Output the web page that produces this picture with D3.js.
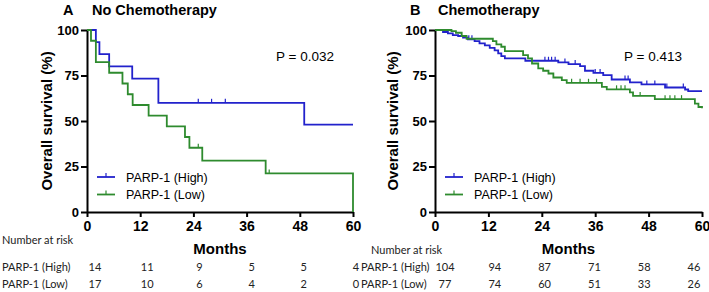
<!DOCTYPE html>
<html>
<head>
<meta charset="utf-8">
<script src="https://cdn.jsdelivr.net/npm/d3@7"></script>
<style>
  body { margin: 0; background: #fff; }
  svg { display: block; }
  text { font-family: "Liberation Sans", Arial, sans-serif; fill: #000; }
  .risk text { font-family: Lato, "Liberation Sans", sans-serif; fill: #222; }
</style>
</head>
<body>
<svg id="chart" width="709" height="292"></svg>
<script>
/* global d3 */

var months = [0, 12, 24, 36, 48, 60]
var yTicks = [0, 25, 50, 75, 100]
var groups = ['PARP-1 (High)', 'PARP-1 (Low)']
var colors = ['#2222cc', '#2e8b2e']

// A - no chemotherapy (Kaplan-Meier steps: time in months, survival %)
var aHighTime = [0, 2.0, 2.8, 5.0, 10.2, 16.1, 49.0, 60]
var aHighSurv = [100, 93.3, 86.7, 80.0, 73.3, 60.0, 48.0, 48.0]
var aHighCens = [25.1, 28.1, 31.2]
var aLowTime = [0, 0.9, 2.0, 5.0, 8.0, 9.2, 10.3, 13.9, 18.0, 22.1, 23.1, 26.0, 40.3, 60]
var aLowSurv = [100, 94.1, 82.4, 76.5, 70.6, 64.7, 58.8, 52.9, 47.1, 41.2, 35.3, 28.2, 21.2, 0]
var aLowCens = [25.1, 41.1]
var aRiskHigh = [14, 11, 9, 5, 5, 4]
var aRiskLow = [17, 10, 6, 4, 2, 0]

// B - chemotherapy
var bHighTime = [0, 1.8, 2.9, 4.0, 5.2, 6.3, 7.4, 8.9, 10.0, 11.2, 12.3, 13.4, 14.2, 14.9, 15.7, 20.3,
  27.7, 30.0, 32.6, 33.7, 35.6, 37.8, 39.7, 43.8, 46.4, 51.7, 56.2, 56.9, 60]
var bHighSurv = [100, 98.9, 98.2, 97.2, 96.7, 95.8, 94.9, 93.9, 92.7, 91.6, 90.2, 88.8, 87.2, 85.7, 84.4, 83.1,
  82.2, 81.3, 80.2, 77.6, 76.4, 75.2, 72.8, 71.2, 70.1, 68.4, 67.3, 66.4, 66.4]
var bHighCens = [7.6, 8.3, 24.7, 25.5, 26.2, 27.0, 29.2, 31.5, 36.0, 37.1, 42.7, 43.4, 47.6, 49.4, 52.1, 55.8]
var bLowTime = [0, 3.7, 4.7, 6.0, 7.1, 13.0, 13.8, 14.9, 15.7, 19.8, 20.9, 21.8, 23.2, 24.3, 25.5, 26.6,
  28.5, 29.6, 37.5, 38.6, 43.8, 44.5, 49.4, 58.4, 59.2, 60]
var bLowSurv = [100, 99.4, 98.5, 96.7, 95.2, 93.9, 92.1, 90.8, 88.4, 86.2, 84.4, 81.6, 78.9, 77.6, 76.1, 73.9,
  72.5, 71.0, 68.8, 67.4, 65.7, 63.8, 62.0, 59.6, 57.7, 57.0]
var bLowCens = [30.7, 32.6, 34.5, 36.3, 40.8, 41.8, 42.7, 46.1, 51.7, 52.8, 53.9, 55.4]
var bRiskHigh = [104, 94, 87, 71, 58, 46]
var bRiskLow = [77, 74, 60, 51, 33, 26]

var panels = [
  {
    tag: 'A', title: 'No Chemotherapy', p: 'P = 0.032',
    x0: 87, x1: 353, tagX: 63, titleX: 92, yTitleX: 52,
    series: [
      {time: aHighTime, surv: aHighSurv, cens: aHighCens},
      {time: aLowTime, surv: aLowSurv, cens: aLowCens}
    ],
    risk: [aRiskHigh, aRiskLow],
    riskX: [95, 356], riskLabelX: 2, riskHeadX: 2, riskHeadY: 244
  },
  {
    tag: 'B', title: 'Chemotherapy', p: 'P = 0.413',
    x0: 435, x1: 702, tagX: 410, titleX: 438, yTitleX: 398,
    series: [
      {time: bHighTime, surv: bHighSurv, cens: bHighCens},
      {time: bLowTime, surv: bLowSurv, cens: bLowCens}
    ],
    risk: [bRiskHigh, bRiskLow],
    riskX: [445, 694], riskLabelX: 361, riskHeadX: 371, riskHeadY: 254
  }
]

var svg = d3.select('#chart')
var y = d3.scaleLinear().domain([0, 100]).range([212, 30])

// survival level at time t (step function)
function levelAt (s, t) {
  var v = s.surv[0]
  for (var i = 0; i < s.time.length; i++) {
    if (s.time[i] <= t) v = s.surv[i]
  }
  return v
}

panels.forEach(function (cfg) {
  var x = d3.scaleLinear().domain([0, 60]).range([cfg.x0, cfg.x1])
  var g = svg.append('g')

  // headings
  g.append('text').attr('x', cfg.tagX).attr('y', 15)
    .style('font-size', '14.5px').style('font-weight', 'bold').text(cfg.tag)
  g.append('text').attr('x', cfg.titleX).attr('y', 15)
    .style('font-size', '14.5px').style('font-weight', 'bold').text(cfg.title)

  // axes
  var yAxis = g.append('g')
    .attr('transform', 'translate(' + cfg.x0 + ',0)')
    .call(d3.axisLeft(y).tickValues(yTicks).tickSize(6).tickSizeOuter(0).tickPadding(2))
  var xAxis = g.append('g')
    .attr('transform', 'translate(0,' + y(0) + ')')
    .call(d3.axisBottom(x).tickValues(months).tickSize(5).tickSizeOuter(0).tickPadding(4))

  ;[yAxis, xAxis].forEach(function (ax) {
    ax.select('.domain').attr('stroke', '#000').attr('stroke-width', 2)
    ax.selectAll('.tick line').attr('stroke', '#000').attr('stroke-width', 2)
    ax.selectAll('text').style('font-family', '"Liberation Sans", Arial, sans-serif')
      .style('font-weight', 'bold').attr('fill', '#000')
  })
  yAxis.selectAll('text').style('font-size', '13px')
  xAxis.selectAll('text').style('font-size', '14px')

  g.append('text')
    .attr('transform', 'translate(' + cfg.yTitleX + ',121) rotate(-90)')
    .attr('text-anchor', 'middle')
    .style('font-size', '15px').style('font-weight', 'bold')
    .text('Overall survival (%)')

  g.append('text')
    .attr('x', (cfg.x0 + cfg.x1) / 2).attr('y', 254)
    .attr('text-anchor', 'middle')
    .style('font-size', '15px').style('font-weight', 'bold')
    .text('Months')

  g.append('text')
    .attr('x', cfg.x0 + 189).attr('y', 61)
    .style('font-size', '13.5px')
    .text(cfg.p)

  // curves
  var line = d3.line()
    .x(d => x(d[0]))
    .y(d => y(d[1]))
    .curve(d3.curveStepAfter)

  cfg.series.forEach(function (s, i) {
    var pts = s.time.map((t, j) => [t, s.surv[j]])
    g.append('path')
      .attr('d', line(pts))
      .attr('fill', 'none')
      .attr('stroke', colors[i])
      .attr('stroke-width', 1.8)

    g.selectAll(null)
      .data(s.cens)
      .enter()
      .append('line')
      .attr('x1', d => x(d)).attr('x2', d => x(d))
      .attr('y1', d => y(levelAt(s, d)))
      .attr('y2', d => y(levelAt(s, d)) - 4)
      .attr('stroke', colors[i])
      .attr('stroke-width', 1.2)
  })

  // legend
  groups.forEach(function (name, i) {
    var ly = 177 + i * 17.5
    g.append('line')
      .attr('x1', cfg.x0 + 10).attr('x2', cfg.x0 + 28)
      .attr('y1', ly).attr('y2', ly)
      .attr('stroke', colors[i]).attr('stroke-width', 1.8)
    g.append('line')
      .attr('x1', cfg.x0 + 19).attr('x2', cfg.x0 + 19)
      .attr('y1', ly).attr('y2', ly - 4)
      .attr('stroke', colors[i]).attr('stroke-width', 1.2)
    g.append('text')
      .attr('x', cfg.x0 + 39).attr('y', ly + 4.5)
      .style('font-size', '12.5px')
      .text(name)
  })

  // number at risk table
  var rx = d3.scaleLinear().domain([0, 60]).range(cfg.riskX)
  var tbl = g.append('g').classed('risk', true)
  tbl.append('text')
    .attr('x', cfg.riskHeadX).attr('y', cfg.riskHeadY)
    .style('font-size', '11px')
    .text('Number at risk')
  cfg.risk.forEach(function (row, i) {
    var ry = 271 + i * 16.5
    tbl.append('text')
      .attr('x', cfg.riskLabelX).attr('y', ry)
      .style('font-size', '11px')
      .text(groups[i])
    tbl.selectAll(null)
      .data(row)
      .enter()
      .append('text')
      .attr('x', (d, j) => rx(months[j]))
      .attr('y', ry)
      .attr('text-anchor', 'middle')
      .style('font-size', '11px')
      .text(d => d)
  })
})
</script>
</body>
</html>
